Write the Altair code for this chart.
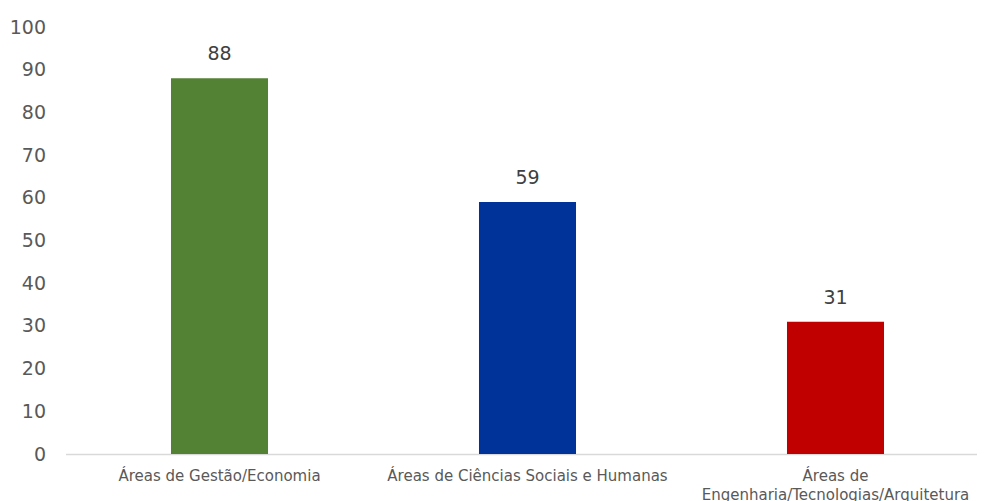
import altair as alt
import pandas as pd

categories = [
    "Áreas de Gestão/Economia",
    "Áreas de Ciências Sociais e Humanas",
    "Áreas de|Engenharia/Tecnologias/Arquitetura",
]
values = [88, 59, 31]
colors = ["#548235", "#003399", "#C00000"]

df = pd.DataFrame({"cat": categories, "val": values, "color": colors})

FONT = "DejaVu Sans"

x = alt.X(
    "cat:N",
    sort=None,
    title=None,
    scale=alt.Scale(range=[0, 924], paddingInner=0.685, paddingOuter=0.3425),
    axis=alt.Axis(
        labelAngle=0,
        labelExpr="split(datum.label, '|')",
        labelFont=FONT,
        labelFontSize=15,
        labelColor="#595959",
        labelLineHeight=19,
        labelPadding=14,
        ticks=False,
        tickSize=0,
        domainColor="#D9D9D9",
        domainWidth=1.5,
        labelLimit=400,
    ),
)
y = alt.Y(
    "val:Q",
    title=None,
    scale=alt.Scale(domain=[0, 100], nice=False),
    axis=alt.Axis(
        values=list(range(0, 101, 10)),
        grid=False,
        domain=False,
        ticks=False,
        tickSize=0,
        labelFont=FONT,
        labelFontSize=19,
        labelColor="#595959",
        labelPadding=20,
    ),
)

bars = alt.Chart(df).mark_bar().encode(
    x=x, y=y, color=alt.Color("color:N", scale=None, legend=None)
)
text = alt.Chart(df).mark_text(
    font=FONT, fontSize=19, color="#404040", baseline="alphabetic", dy=-18
).encode(x=x, y=y, text="val:Q")

chart = (
    alt.layer(bars, text)
    .properties(
        width=911,
        height=427,
        autosize=alt.AutoSizeParams(type="none"),
        padding={"left": 57.5, "top": 19, "right": 0, "bottom": 47},
    )
    .configure_view(stroke=None)
)

chart.save("out.html", embed_options={"renderer": "svg", "actions": False})
